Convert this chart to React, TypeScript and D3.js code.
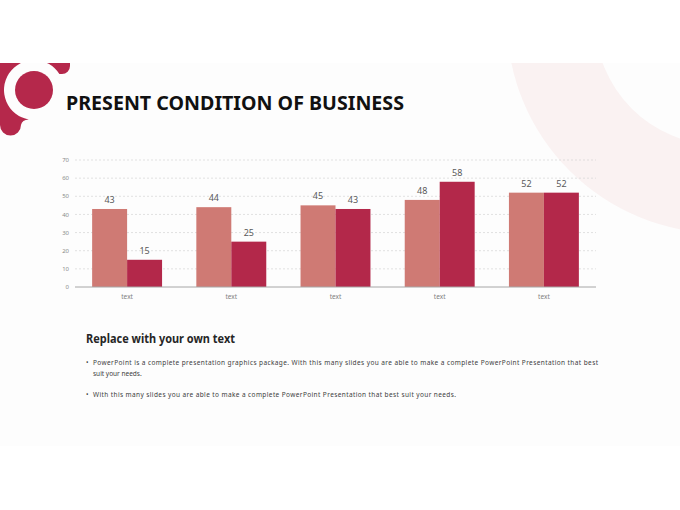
import React from 'react';
import * as d3 from 'd3';

// chart data
const categories = ['text', 'text', 'text', 'text', 'text'];
const seriesA = [43, 44, 45, 48, 52];
const seriesB = [15, 25, 43, 58, 52];
const yTicks = [0, 10, 20, 30, 40, 50, 60, 70];

const bulletLines = [
  'PowerPoint is a complete presentation graphics package. With this many slides you are able to make a complete PowerPoint Presentation that best',
  'suit your needs.',
];
const bullet2 = 'With this many slides you are able to make a complete PowerPoint Presentation  that best suit your needs.';

const W = 680;
const H = 510;
const margin = { top: 160, right: 84, bottom: 223, left: 75 };

const colorA = '#cf7a74';
const colorB = '#b3284a';
const crimson = '#b5284b';
const slideBg = '#fdfdfd';
const font = "'Noto Sans', 'DejaVu Sans', sans-serif";

export default function App() {
  const x0 = d3.scaleBand<number>()
    .domain(d3.range(categories.length))
    .range([margin.left, W - margin.right]);
  const x1 = d3.scaleBand<string>()
    .domain(['a', 'b'])
    .range([0, x0.bandwidth()])
    .paddingOuter(0.49);
  const y = d3.scaleLinear()
    .domain([0, 70])
    .range([H - margin.bottom, margin.top]);

  const baseY = y(0);

  // top-left blob: band + outer arc round the ring + tail
  const cx = 34, cy = 90, ro = 30;
  const a1 = -Math.asin(16 / ro);
  const a2 = (100 * Math.PI) / 180;
  const p1 = [cx + ro * Math.cos(a1), cy + ro * Math.sin(a1)];
  const p2 = [cx + ro * Math.cos(a2), cy + ro * Math.sin(a2)];
  const blob = `M0,63 H70 V66 A8,8 0 0 1 62,74 L${p1[0]},${p1[1]} A${ro},${ro} 0 1 0 ${p2[0]},${p2[1]} Q22,120 21,125 V125 A10.5,10.5 0 0 1 0,125 Z`;

  return (
    <div style={{ position: 'absolute', left: 0, top: 0 }}>
      <svg width={W} height={H} style={{ display: 'block', fontFamily: font }}>
        <defs>
          <clipPath id="slide">
            <rect x={0} y={63} width={W} height={383} />
          </clipPath>
        </defs>
        <rect x={0} y={0} width={W} height={H} fill="#ffffff" />
        <rect x={0} y={63} width={W} height={383} fill={slideBg} />

        {/* background ring top right */}
        <g clipPath="url(#slide)">
          <path
            d={d3.arc()({ innerRadius: 125, outerRadius: 213, startAngle: 0, endAngle: Math.PI * 2 }) || ''}
            transform="translate(720,20)"
            fill="#faf2f2"
          />
          {/* top-left decoration */}
          <path d={blob} fill={crimson} />
          <circle cx={cx} cy={cy} r={24} fill={slideBg} />
          <circle cx={cx} cy={cy} r={19} fill={crimson} />
        </g>

        <text x={66} y={110} fontSize={19.5} fontWeight="bold" fill="#111" textLength={338} lengthAdjust="spacingAndGlyphs">
          PRESENT CONDITION OF BUSINESS
        </text>

        {/* grid */}
        {yTicks.map(t => (
          <g key={t}>
            {t > 0 && (
              <line x1={margin.left} x2={W - margin.right} y1={y(t)} y2={y(t)}
                stroke="#d4d4d4" strokeWidth={0.7} strokeDasharray="2,2" />
            )}
            <text x={69} y={y(t)} dy="0.35em" textAnchor="end" fontSize={6} fill="#8a8a8a">{t}</text>
          </g>
        ))}

        {/* bars */}
        {categories.map((c, i) => {
          const gx = x0(i) || 0;
          const bars = [
            { key: 'a', v: seriesA[i], color: colorA },
            { key: 'b', v: seriesB[i], color: colorB },
          ];
          return (
            <g key={i}>
              {bars.map(b => {
                const bx = gx + (x1(b.key) || 0);
                return (
                  <g key={b.key}>
                    <rect x={bx} y={y(b.v)} width={x1.bandwidth()} height={baseY - y(b.v)} fill={b.color} />
                    <text x={bx + x1.bandwidth() / 2} y={y(b.v) - 6} textAnchor="middle" fontSize={9} fill="#595959">{b.v}</text>
                  </g>
                );
              })}
              <text x={gx + x0.bandwidth() / 2} y={baseY + 12} textAnchor="middle" fontSize={6.5} fill="#7f7f7f">{c}</text>
            </g>
          );
        })}
        <line x1={margin.left} x2={W - margin.right} y1={baseY} y2={baseY} stroke="#a6a6a6" strokeWidth={1} />

        {/* text block */}
        <text x={86} y={343} fontSize={11.5} fontWeight="bold" fill="#262626" textLength={149} lengthAdjust="spacingAndGlyphs">
          Replace with your own text
        </text>
        <text x={86} y={365} fontSize={6.5} fill="#404040">•</text>
        <text x={93} y={365} fontSize={6.5} fill="#404040" textLength={505} lengthAdjust="spacing">{bulletLines[0]}</text>
        <text x={93} y={376} fontSize={6.5} fill="#404040">{bulletLines[1]}</text>
        <text x={86} y={397} fontSize={6.5} fill="#404040">•</text>
        <text x={93} y={397} fontSize={6.5} fill="#404040" textLength={363} lengthAdjust="spacing">{bullet2}</text>
      </svg>
    </div>
  );
}
